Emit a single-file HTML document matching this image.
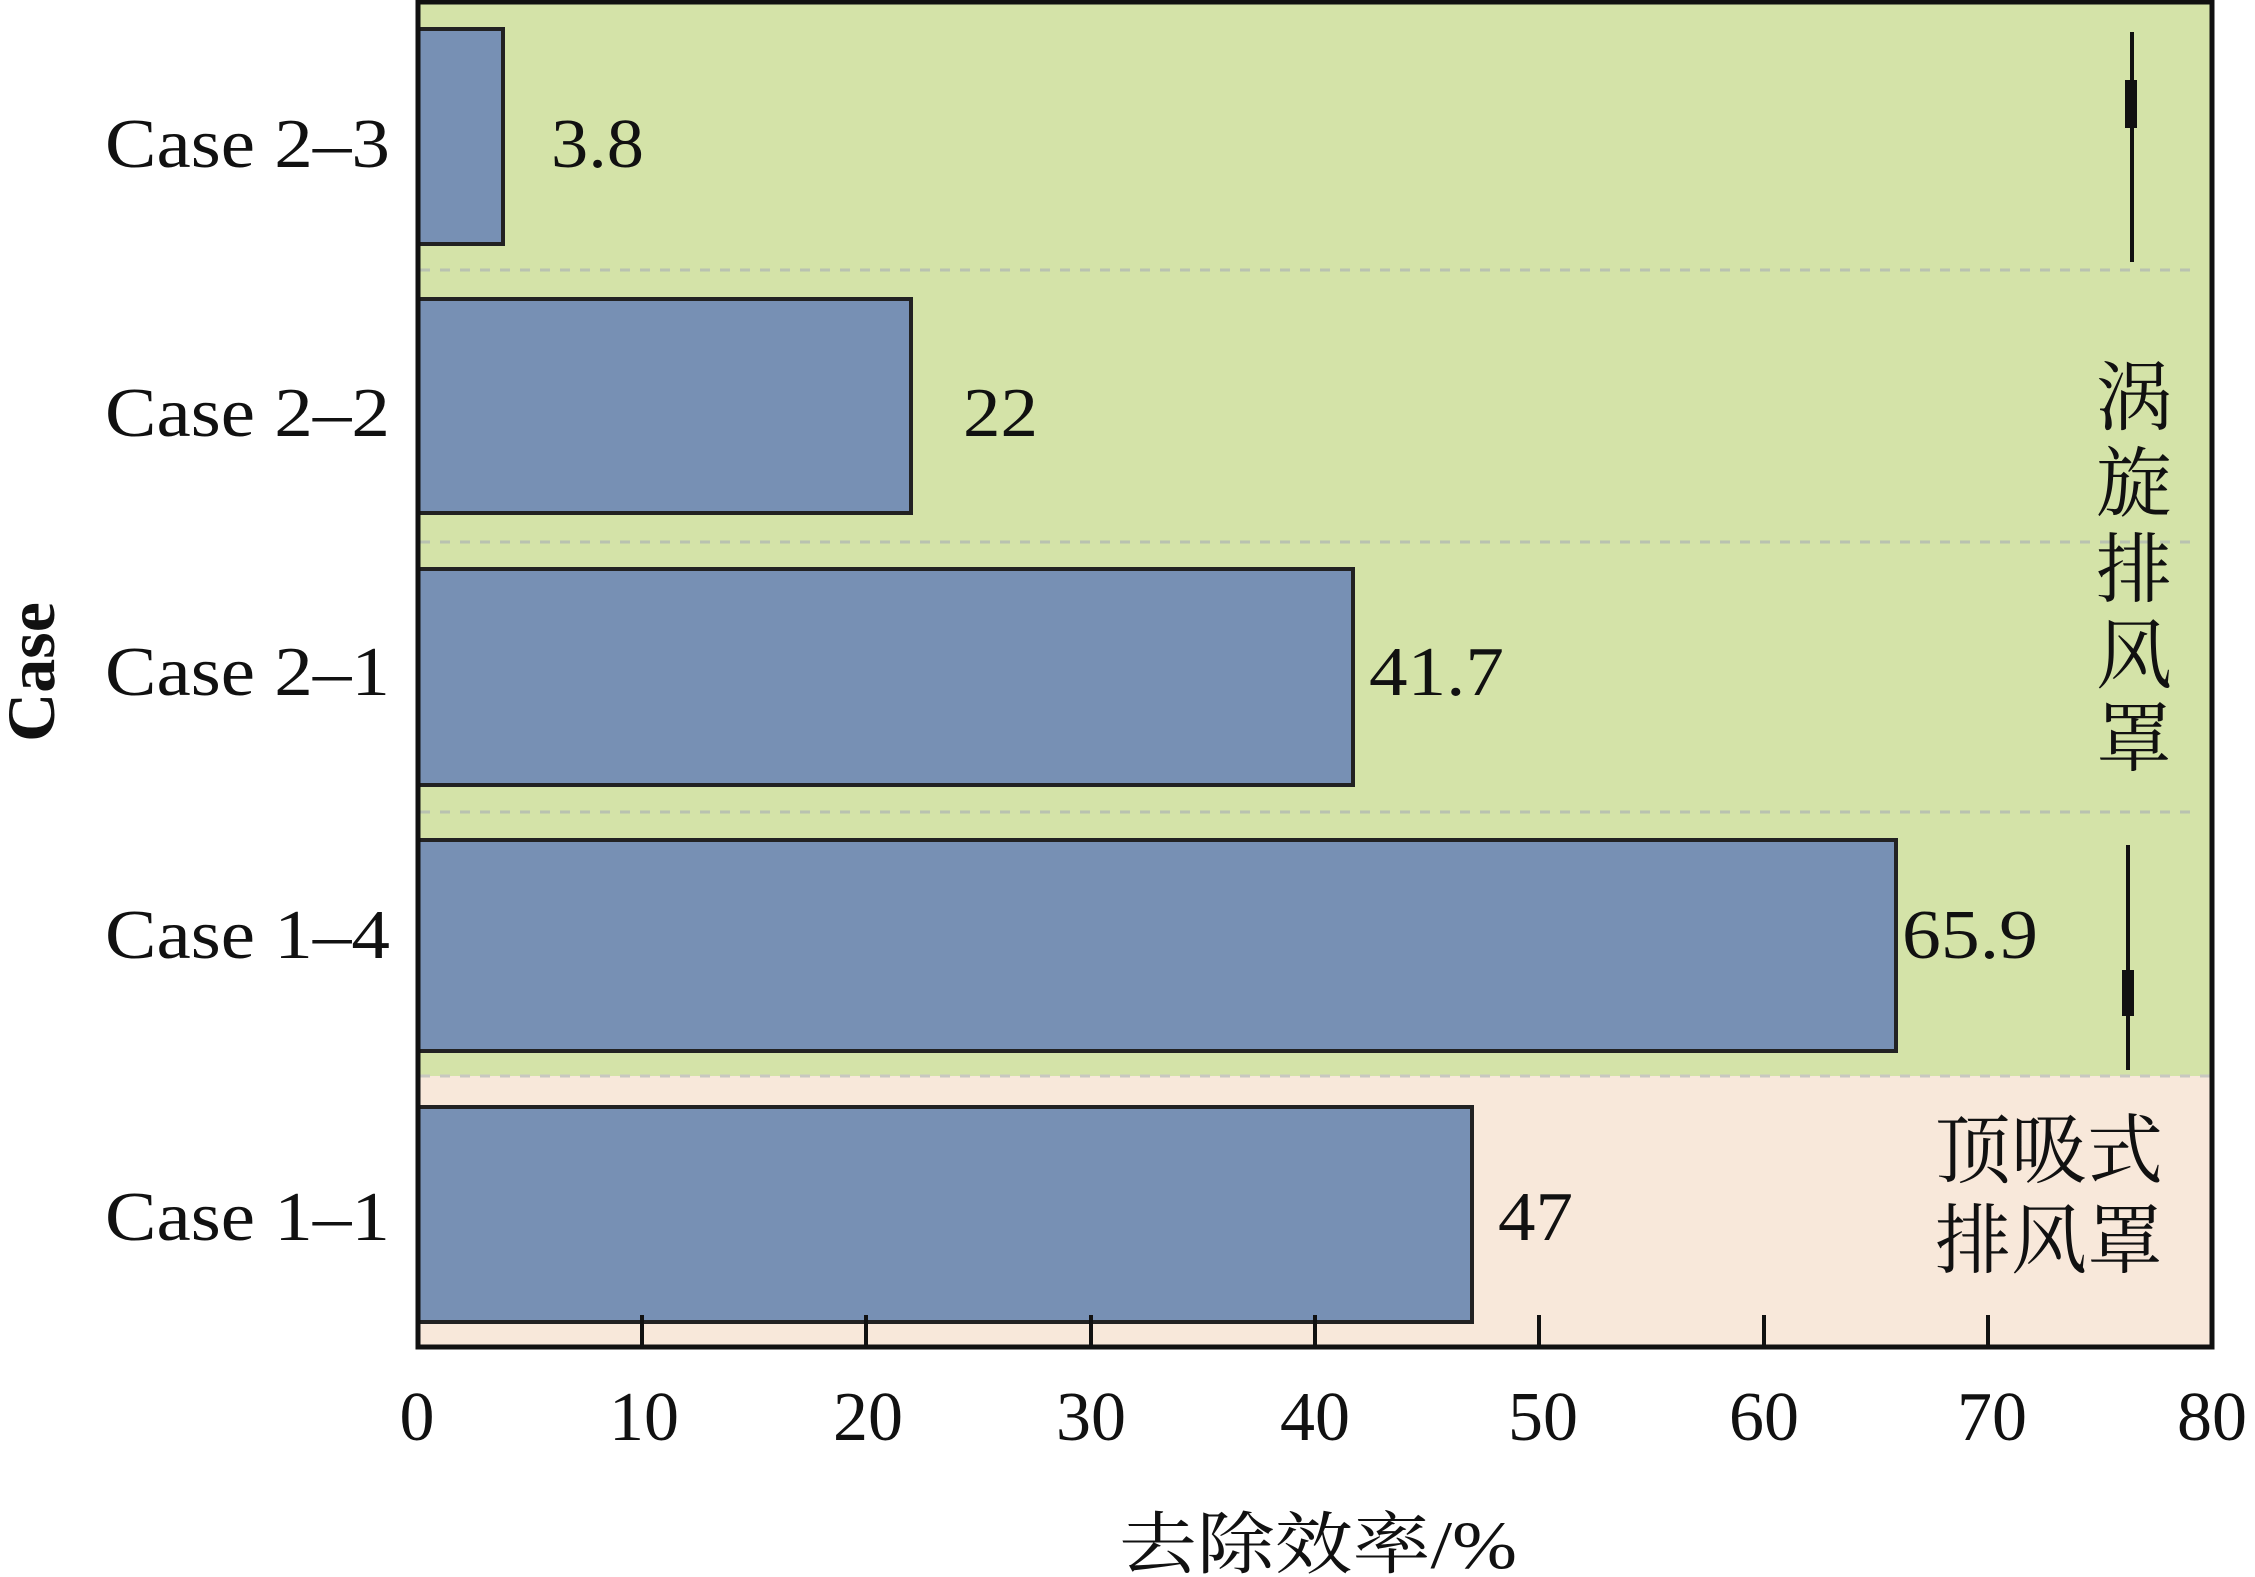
<!DOCTYPE html>
<html><head><meta charset="utf-8"><style>
html,body{margin:0;padding:0;background:#fff;}
svg{display:block;}
text{font-family:"Liberation Serif","Noto Serif CJK SC",serif;fill:#111;}
</style></head><body>
<svg width="2255" height="1577" viewBox="0 0 2255 1577" xmlns="http://www.w3.org/2000/svg">
<rect x="418" y="2" width="1794" height="1074" fill="#d4e3a8"/>
<rect x="418" y="1076" width="1794" height="271" fill="#f8e8da"/>
<g stroke="#b9c2b0" stroke-width="3" stroke-dasharray="10,10">
<line x1="420" y1="270" x2="2200" y2="270"/>
<line x1="420" y1="542" x2="2200" y2="542"/>
<line x1="420" y1="812" x2="2200" y2="812"/>
<line x1="420" y1="1076" x2="2210" y2="1076" stroke="#c8c8c0"/>
</g>
<g fill="#7790b4" stroke="#222" stroke-width="4">
<rect x="418" y="29" width="85" height="215"/>
<rect x="418" y="299" width="493" height="214"/>
<rect x="418" y="569" width="935" height="216"/>
<rect x="418" y="840" width="1478" height="211"/>
<rect x="418" y="1107" width="1054" height="215"/>
</g>
<rect x="418" y="2" width="1794" height="1345" fill="none" stroke="#111" stroke-width="5"/>
<g stroke="#111" stroke-width="4">
<line x1="642" y1="1347" x2="642" y2="1315"/>
<line x1="866" y1="1347" x2="866" y2="1315"/>
<line x1="1091" y1="1347" x2="1091" y2="1315"/>
<line x1="1315" y1="1347" x2="1315" y2="1315"/>
<line x1="1539" y1="1347" x2="1539" y2="1315"/>
<line x1="1764" y1="1347" x2="1764" y2="1315"/>
<line x1="1988" y1="1347" x2="1988" y2="1315"/>
</g>
<g font-size="70" lengthAdjust="spacingAndGlyphs">
<text x="105" y="167" textLength="285" lengthAdjust="spacingAndGlyphs">Case 2–3</text>
<text x="105" y="436" textLength="285" lengthAdjust="spacingAndGlyphs">Case 2–2</text>
<text x="105" y="695" textLength="285" lengthAdjust="spacingAndGlyphs">Case 2–1</text>
<text x="105" y="958" textLength="285" lengthAdjust="spacingAndGlyphs">Case 1–4</text>
<text x="105" y="1240" textLength="285" lengthAdjust="spacingAndGlyphs">Case 1–1</text>
</g>
<g font-size="70">
<text x="551" y="167" textLength="93" lengthAdjust="spacingAndGlyphs">3.8</text>
<text x="963" y="436" textLength="75" lengthAdjust="spacingAndGlyphs">22</text>
<text x="1369" y="695" textLength="135" lengthAdjust="spacingAndGlyphs">41.7</text>
<text x="1902" y="958" textLength="136" lengthAdjust="spacingAndGlyphs">65.9</text>
<text x="1498" y="1240" textLength="75" lengthAdjust="spacingAndGlyphs">47</text>
</g>
<g font-size="70" text-anchor="middle">
<text x="417" y="1440">0</text>
<text x="644" y="1440">10</text>
<text x="868" y="1440">20</text>
<text x="1091" y="1440">30</text>
<text x="1315" y="1440">40</text>
<text x="1543" y="1440">50</text>
<text x="1764" y="1440">60</text>
<text x="1992" y="1440">70</text>
<text x="2212" y="1440">80</text>
</g>
<text x="1119" y="1568" font-size="68" textLength="398" lengthAdjust="spacingAndGlyphs">去除效率/%</text>
<text transform="translate(54,672) rotate(-90)" font-size="68" font-weight="bold" text-anchor="middle">Case</text>
<g font-size="76" text-anchor="middle">
<text x="2134" y="424">涡</text>
<text x="2134" y="510">旋</text>
<text x="2134" y="596">排</text>
<text x="2134" y="682">风</text>
<text x="2134" y="765">罩</text>
<text x="2049" y="1177">顶吸式</text>
<text x="2049" y="1267">排风罩</text>
</g>
<g stroke="#111" stroke-width="4">
<line x1="2132" y1="32" x2="2132" y2="262"/>
<line x1="2128" y1="1070" x2="2128" y2="845"/>
</g>
<rect x="2125" y="80" width="12" height="48" fill="#111"/>
<rect x="2122" y="970" width="12" height="46" fill="#111"/>
</svg>
</body></html>
